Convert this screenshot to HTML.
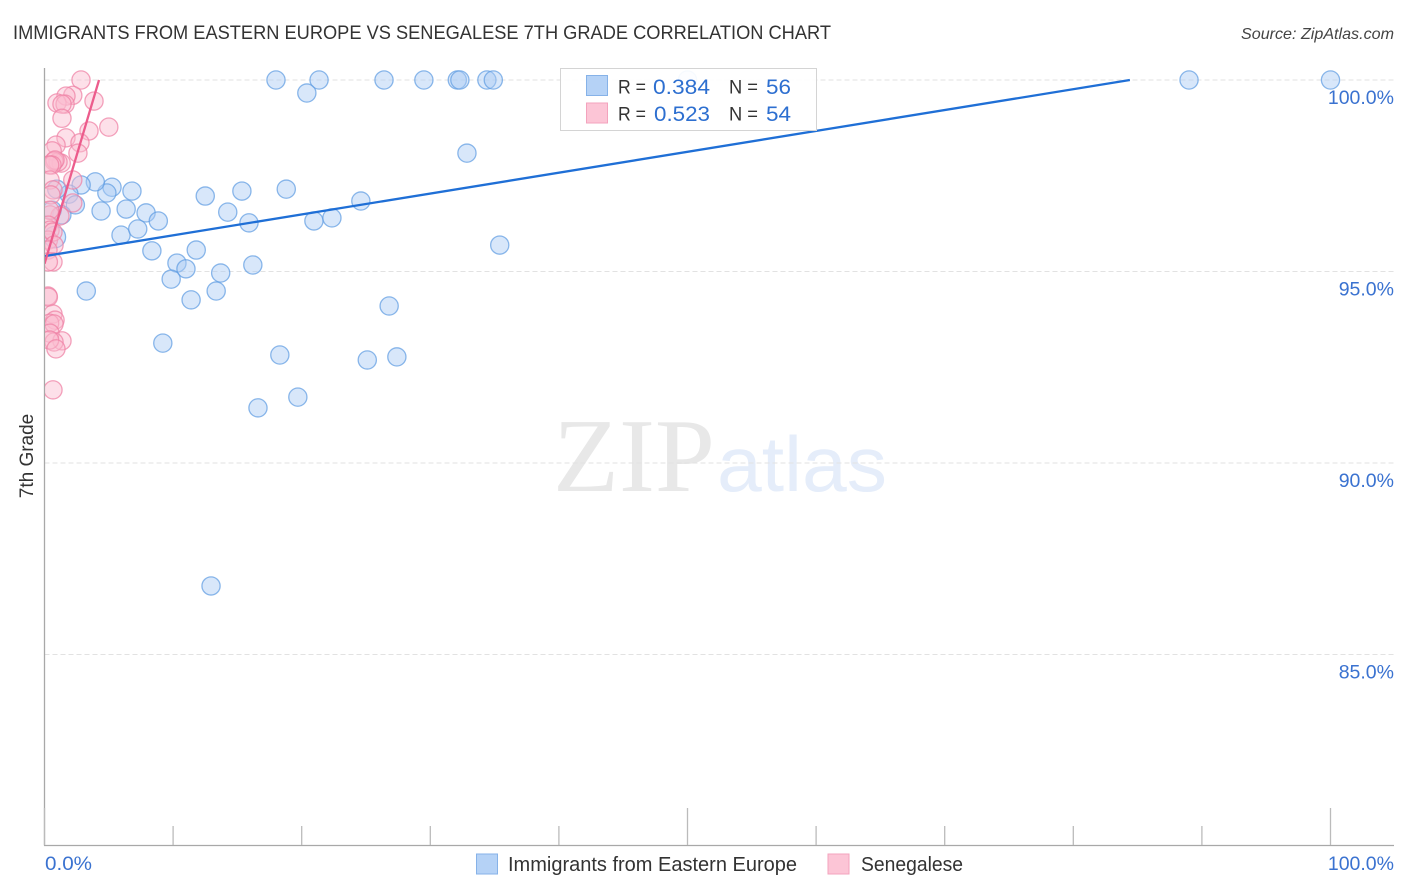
<!DOCTYPE html>
<html lang="en">
<head>
<meta charset="utf-8">
<title>Immigrants from Eastern Europe vs Senegalese 7th Grade Correlation Chart</title>
<style>
html,body{margin:0;padding:0;background:#fff;}
body{width:1406px;height:892px;overflow:hidden;}
svg{display:block;font-family:"Liberation Sans",sans-serif;}
</style>
</head>
<body>
<svg id="chart" width="1406" height="892" viewBox="0 0 1406 892" xmlns="http://www.w3.org/2000/svg">
  <defs>
    <clipPath id="plotClip"><rect x="45" y="60" width="1349" height="786"/></clipPath>
  </defs>
  <text x="13" y="39" font-size="19" fill="#333" textLength="818" lengthAdjust="spacingAndGlyphs">IMMIGRANTS FROM EASTERN EUROPE VS SENEGALESE 7TH GRADE CORRELATION CHART</text>
  <text x="1394" y="39" font-size="16" font-style="italic" fill="#444" text-anchor="end" textLength="153" lengthAdjust="spacingAndGlyphs">Source: ZipAtlas.com</text>

  <g>
    <text x="553" y="491" font-family="'Liberation Serif',serif" font-size="105" fill="#e8e8e8" textLength="162" lengthAdjust="spacingAndGlyphs">ZIP</text>
    <text x="717" y="491" font-size="78" fill="#e5edfa" textLength="170" lengthAdjust="spacingAndGlyphs">atlas</text>
  </g>

  <g id="grid"></g>
  <g id="axes"></g>
  <g clip-path="url(#plotClip)">
    <g id="pointsBlue"></g>
    <g id="pointsPink"></g>
    <g id="trends"></g>
  </g>
  <g id="labels"></g>

  <text transform="translate(33,456) rotate(-90)" font-size="19" fill="#333" text-anchor="middle">7th Grade</text>

  <g>
    <rect x="560.5" y="68.5" width="256" height="62" fill="#fff" fill-opacity="0.92" stroke="#d4d4d4"/>
    <rect x="586.5" y="75.5" width="21" height="20" fill="#b5d2f6" stroke="#86b2e8"/>
    <rect x="586.5" y="103" width="21" height="20" fill="#fcc5d6" stroke="#f3a3bd"/>
    <text x="618" y="93.5" font-size="19" fill="#333" textLength="28" lengthAdjust="spacingAndGlyphs">R =</text>
    <text x="653" y="94" font-size="21.5" fill="#2d6fd0" textLength="57" lengthAdjust="spacingAndGlyphs">0.384</text>
    <text x="729" y="93.5" font-size="19" fill="#333" textLength="29" lengthAdjust="spacingAndGlyphs">N =</text>
    <text x="766" y="94" font-size="21.5" fill="#2d6fd0" textLength="25" lengthAdjust="spacingAndGlyphs">56</text>
    <text x="618" y="120.5" font-size="19" fill="#333" textLength="28" lengthAdjust="spacingAndGlyphs">R =</text>
    <text x="654" y="121" font-size="21.5" fill="#2d6fd0" textLength="56" lengthAdjust="spacingAndGlyphs">0.523</text>
    <text x="729" y="120.5" font-size="19" fill="#333" textLength="29" lengthAdjust="spacingAndGlyphs">N =</text>
    <text x="766" y="121" font-size="21.5" fill="#2d6fd0" textLength="25" lengthAdjust="spacingAndGlyphs">54</text>
  </g>

  <g>
    <rect x="476.5" y="854" width="21" height="20" fill="#b5d2f6" stroke="#86b2e8"/>
    <text x="508" y="871" font-size="20" fill="#333" textLength="289" lengthAdjust="spacingAndGlyphs">Immigrants from Eastern Europe</text>
    <rect x="828" y="854" width="21" height="20" fill="#fcc5d6" stroke="#f3a3bd"/>
    <text x="861" y="871" font-size="20" fill="#333" textLength="102" lengthAdjust="spacingAndGlyphs">Senegalese</text>
  </g>
</svg>
<script>
const blueX = [18.0,21.35,26.4,29.5,32.1,32.3,34.4,34.9,89.0,100,50.0,20.4,32.85,24.6,18.8,15.35,12.5,14.25,15.9,20.95,22.35,35.4,6.8,5.25,4.85,3.95,2.85,1.9,0.95,2.4,4.4,6.35,7.9,8.85,5.95,7.25,8.35,1.35,0.6,11.8,10.3,11.0,9.85,13.7,16.2,11.4,13.35,3.25,9.2,26.8,18.3,25.1,27.4,19.7,16.6,12.95];
const blueY = [100,100,100,100,100,100,100,100,100,100,100,99.66,98.09,96.84,97.15,97.1,96.97,96.55,96.27,96.32,96.4,95.69,97.1,97.2,97.05,97.34,97.26,97.02,97.15,96.74,96.58,96.63,96.53,96.32,95.95,96.11,95.54,96.48,96.6,95.56,95.22,95.07,94.8,94.96,95.17,94.26,94.49,94.49,93.13,94.1,92.82,92.69,92.77,91.72,91.44,86.79];
const blueLargeX = [0.8];
const blueLargeY = [95.9];
const pinkX = [2.84,2.2,1.67,0.97,1.6,1.36,3.85,1.36,5.0,3.46,1.67,0.9,2.76,2.6,0.6,1.3,1.05,0.74,0.82,0.58,0.4,2.2,0.43,0.66,0.5,2.2,1.2,0.43,0.4,0.3,0.43,0.3,0.66,0.74,0.27,0.66,0.3,0.27,0.3,0.66,0.82,0.4,0.74,0.43,1.36,0.74,0.4,0.89,0.66];
const pinkY = [100,99.6,99.58,99.4,99.37,99.37,99.45,99.0,98.77,98.67,98.49,98.3,98.36,98.09,98.15,97.83,97.86,97.88,97.91,97.78,97.78,97.39,97.39,97.13,97.0,96.79,96.45,96.48,96.6,96.21,96.08,95.82,96.03,95.69,95.56,95.25,95.25,94.36,94.33,93.89,93.73,93.65,93.63,93.39,93.19,93.16,93.21,92.98,91.91];
const blueTrendX = [0, 84.4];
const blueTrendY = [95.4, 100];
const pinkTrendX = [0, 4.24];
const pinkTrendY = [95.2, 100];
const yTicks = [100, 95, 90, 85];
const yTickLabels = ["100.0%", "95.0%", "90.0%", "85.0%"];
const xTicks = [0, 10, 20, 30, 40, 50, 60, 70, 80, 90, 100];
const xMajorTicks = [0, 50, 100];
const xEndLabels = ["0.0%", "100.0%"];

const NS = "http://www.w3.org/2000/svg";
function sx(v){ return 44.5 + v * 12.86; }
function sy(v){ return 80 + (100 - v) * 38.3; }
function mk(tag, parent, attrs){
  const el = document.createElementNS(NS, tag);
  for (const k in attrs) el.setAttribute(k, attrs[k]);
  parent.appendChild(el);
  return el;
}

const grid = document.getElementById("grid");
yTicks.forEach(function(t){
  const ln = mk("line", grid, {x1:44.5, x2:1394, y1:sy(t), y2:sy(t), stroke:"#e2e2e2", "stroke-width":1, "stroke-dasharray":"5 3"});
  
  
});

const axes = document.getElementById("axes");
const yAxis = mk("line", axes, {x1:44.5, x2:44.5, y1:68, y2:845.5, stroke:"#a8a8a8", "stroke-width":1.3});


const xAxis = mk("line", axes, {x1:44, x2:1394, y1:845.5, y2:845.5, stroke:"#a8a8a8", "stroke-width":1.3});


xTicks.forEach(function(t){
  const major = xMajorTicks.indexOf(t) >= 0;
  const tk = mk("line", axes, {x1:sx(t), x2:sx(t), y1:major ? 808 : 826, y2:845, stroke:"#bbbbbb", "stroke-width":1.3});
  
  
});

function drawPoints(groupId, xs, ys, r, fill, stroke, name){
  const g = document.getElementById(groupId);
  xs.forEach(function(x, i){
    const c = mk("circle", g, {cx:sx(x), cy:sy(ys[i]), r:r, fill:fill, "fill-opacity":0.46, stroke:stroke, "stroke-opacity":0.72, "stroke-width":1.3});
    
    
  });
}
drawPoints("pointsBlue", blueX, blueY, 9.1, "#a9cbf4", "#5f9de2", "eastern-europe-point");
drawPoints("pointsBlue", blueLargeX, blueLargeY, 10.8, "#a9cbf4", "#5f9de2", "eastern-europe-point");
drawPoints("pointsPink", pinkX, pinkY, 9.1, "#fbbccf", "#ee7fa3", "senegalese-point");

const trends = document.getElementById("trends");
const blueLine = mk("line", trends, {x1:sx(blueTrendX[0]), y1:sy(blueTrendY[0]), x2:sx(blueTrendX[1]), y2:sy(blueTrendY[1]), stroke:"#1f6fd6", "stroke-width":2.3});


const pinkLine = mk("line", trends, {x1:sx(pinkTrendX[0]), y1:sy(pinkTrendY[0]), x2:sx(pinkTrendX[1]), y2:sy(pinkTrendY[1]), stroke:"#ec5c8c", "stroke-width":2.3});



const labels = document.getElementById("labels");
yTicks.forEach(function(t, i){
  const lb = mk("text", labels, {x:1394, y:sy(t) + 24, "font-size":19.5, fill:"#3a72d0", "text-anchor":"end"});
  lb.textContent = yTickLabels[i];
  
  
});
const x0 = mk("text", labels, {x:45, y:870, "font-size":19.5, fill:"#3a72d0", textLength:47, lengthAdjust:"spacingAndGlyphs"});
x0.textContent = xEndLabels[0];


const x1 = mk("text", labels, {x:1394, y:870, "font-size":19.5, fill:"#3a72d0", "text-anchor":"end"});
x1.textContent = xEndLabels[1];


</script>
</body>
</html>
